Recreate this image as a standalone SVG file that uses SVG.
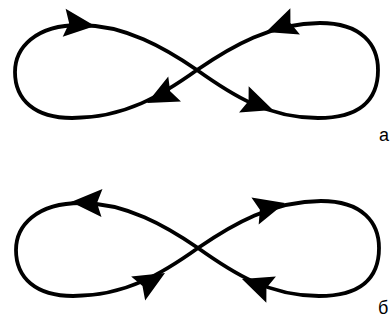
<svg xmlns="http://www.w3.org/2000/svg" width="390" height="320" viewBox="0 0 390 320">
<style>
.curve{fill:none;stroke:#000;stroke-width:3.8;stroke-linejoin:round}
.lbl{font-family:"Liberation Sans",Arial,sans-serif;font-size:18px;fill:#000}
</style>
<defs>
<path id="eight" d="M 197 70 C 165 48, 125 25, 80 25 C 35 25, 15 48, 15 72 C 15 100, 35 118, 72 118 C 125 118, 162 95, 197 70 C 232 46, 272 23, 320 23 C 362 23, 378 45, 378 70 C 378 100, 360 118, 318 118 C 268 118, 232 95, 197 70 Z"/>
<polygon id="ah" points="0,0 -31,-14 -26,0 -31,14" fill="#000"/>
</defs>
<g id="figure-a">
<use href="#eight" class="curve"/>
</g>
<g id="figure-b" transform="translate(1,178)">
<use href="#eight" class="curve"/>
</g>
<g id="arrows">
<use href="#ah" transform="translate(95,26) rotate(6)"/>
<use href="#ah" transform="translate(266,32) rotate(160)"/>
<use href="#ah" transform="translate(147,103) rotate(153)"/>
<use href="#ah" transform="translate(273,110) rotate(20)"/>
<use href="#ah" transform="translate(71,202) rotate(182)"/>
<use href="#ah" transform="translate(285,203) rotate(-15)"/>
<use href="#ah" transform="translate(165,273) rotate(-30)"/>
<use href="#ah" transform="translate(242,279) rotate(200)"/>
</g>
<g id="labels">
<text class="lbl" x="379" y="141">a</text>
<text class="lbl" x="378" y="314">б</text>
</g>
</svg>
